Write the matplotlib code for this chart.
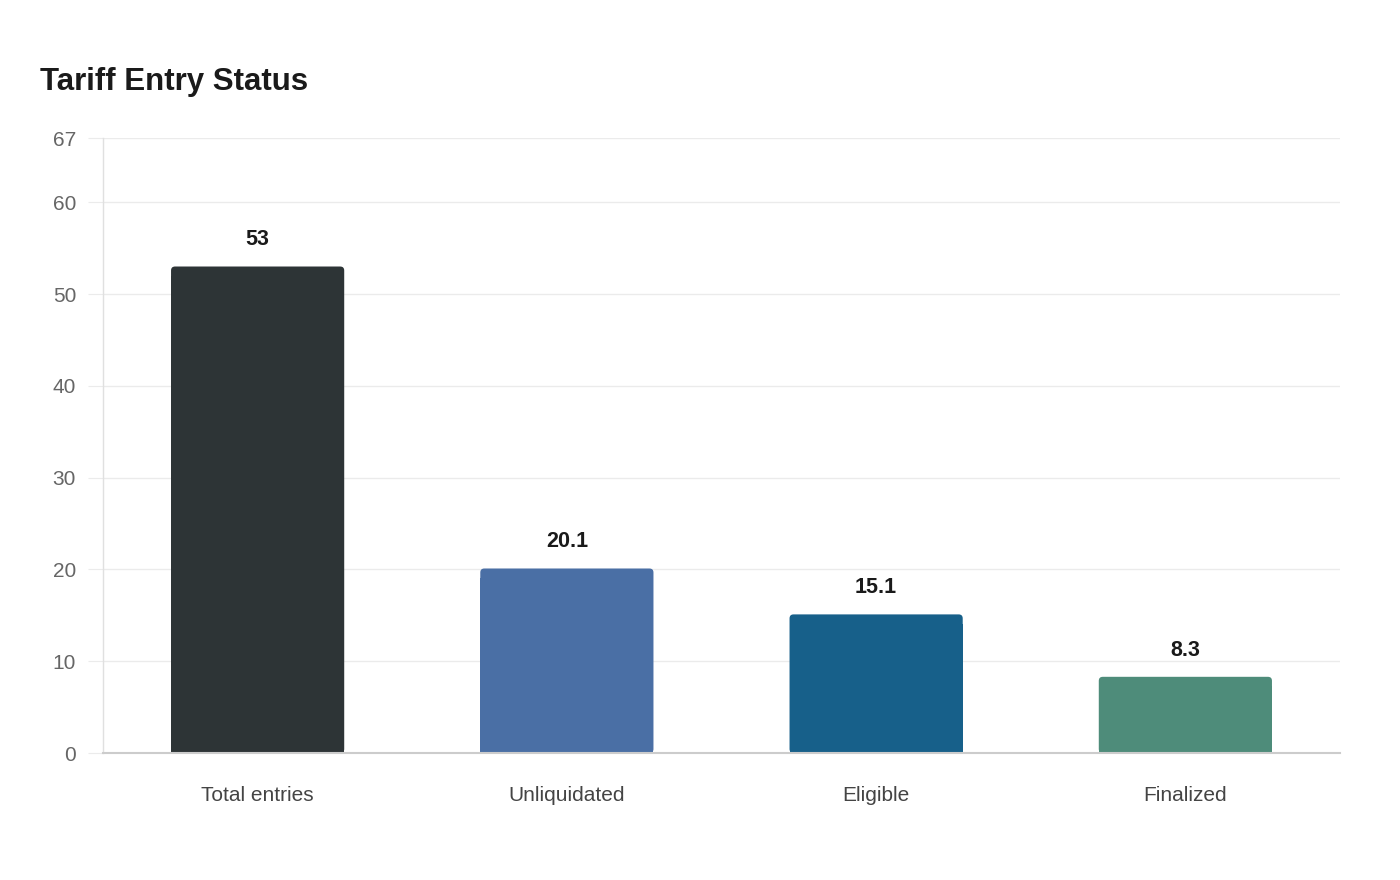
import matplotlib.pyplot as plt
from matplotlib.patches import FancyBboxPatch

categories = ['Total entries', 'Unliquidated', 'Eligible', 'Finalized']
values = [53, 20.1, 15.1, 8.3]
value_labels = ['53', '20.1', '15.1', '8.3']
colors = ['#2d3436', '#4a6fa5', '#17608a', '#4e8c7a']
y_ticks = [0, 10, 20, 30, 40, 50, 60, 67]

plt.rcParams['font.family'] = ['Liberation Sans', 'DejaVu Sans']

fig = plt.figure(figsize=(14, 8.8), dpi=100)
ax = fig.add_axes([103 / 1400, 127 / 880, 1237 / 1400, 615 / 880])

x = list(range(len(categories)))
w = 0.56
bars = ax.bar(x, [v - 1 for v in values], width=w, color=colors, zorder=3,
              linewidth=0)

# rounded tops: rounding in px converted to data units
r_x = 4 / 309.25
r_y = 4 / (615 / 67)
for b, v, c in zip(bars, values, colors):
    p = FancyBboxPatch((b.get_x(), 0), w, v,
                       boxstyle=f"round,pad=0,rounding_size={r_x}",
                       mutation_aspect=r_y / r_x,
                       facecolor=c, edgecolor='none', zorder=3)
    ax.add_patch(p)

for xi, v, lab in zip(x, values, value_labels):
    ax.annotate(lab, (xi, v), xytext=(0, 15.3), textcoords='offset points',
                ha='center', va='baseline', fontsize=15.5, fontweight='bold',
                color='#1a1a1a')

ax.set_xlim(-0.5, 3.5)
ax.set_ylim(0, 67)
ax.set_yticks(y_ticks)
ax.set_xticks(x)
ax.set_xticklabels(categories)
ax.grid(axis='y', color='#ebebeb', linewidth=1, zorder=0)
ax.tick_params(axis='y', length=10.8, color='#ebebeb', labelsize=15,
               labelcolor='#666666', pad=8.6)
ax.tick_params(axis='x', length=0, labelsize=15, labelcolor='#444444', pad=24)

for s in ['top', 'right']:
    ax.spines[s].set_visible(False)
ax.spines['left'].set_color('#e0e0e0')
ax.spines['left'].set_linewidth(1)
ax.spines['bottom'].set_color('#cccccc')
ax.spines['bottom'].set_linewidth(1.5)
ax.spines['bottom'].set_zorder(4)

fig.text(40 / 1400, 1 - 90 / 880, 'Tariff Entry Status', fontsize=22.5,
         fontweight='bold', color='#1a1a1a', va='baseline', ha='left')

fig.savefig('out.png', dpi=100, facecolor='white')
